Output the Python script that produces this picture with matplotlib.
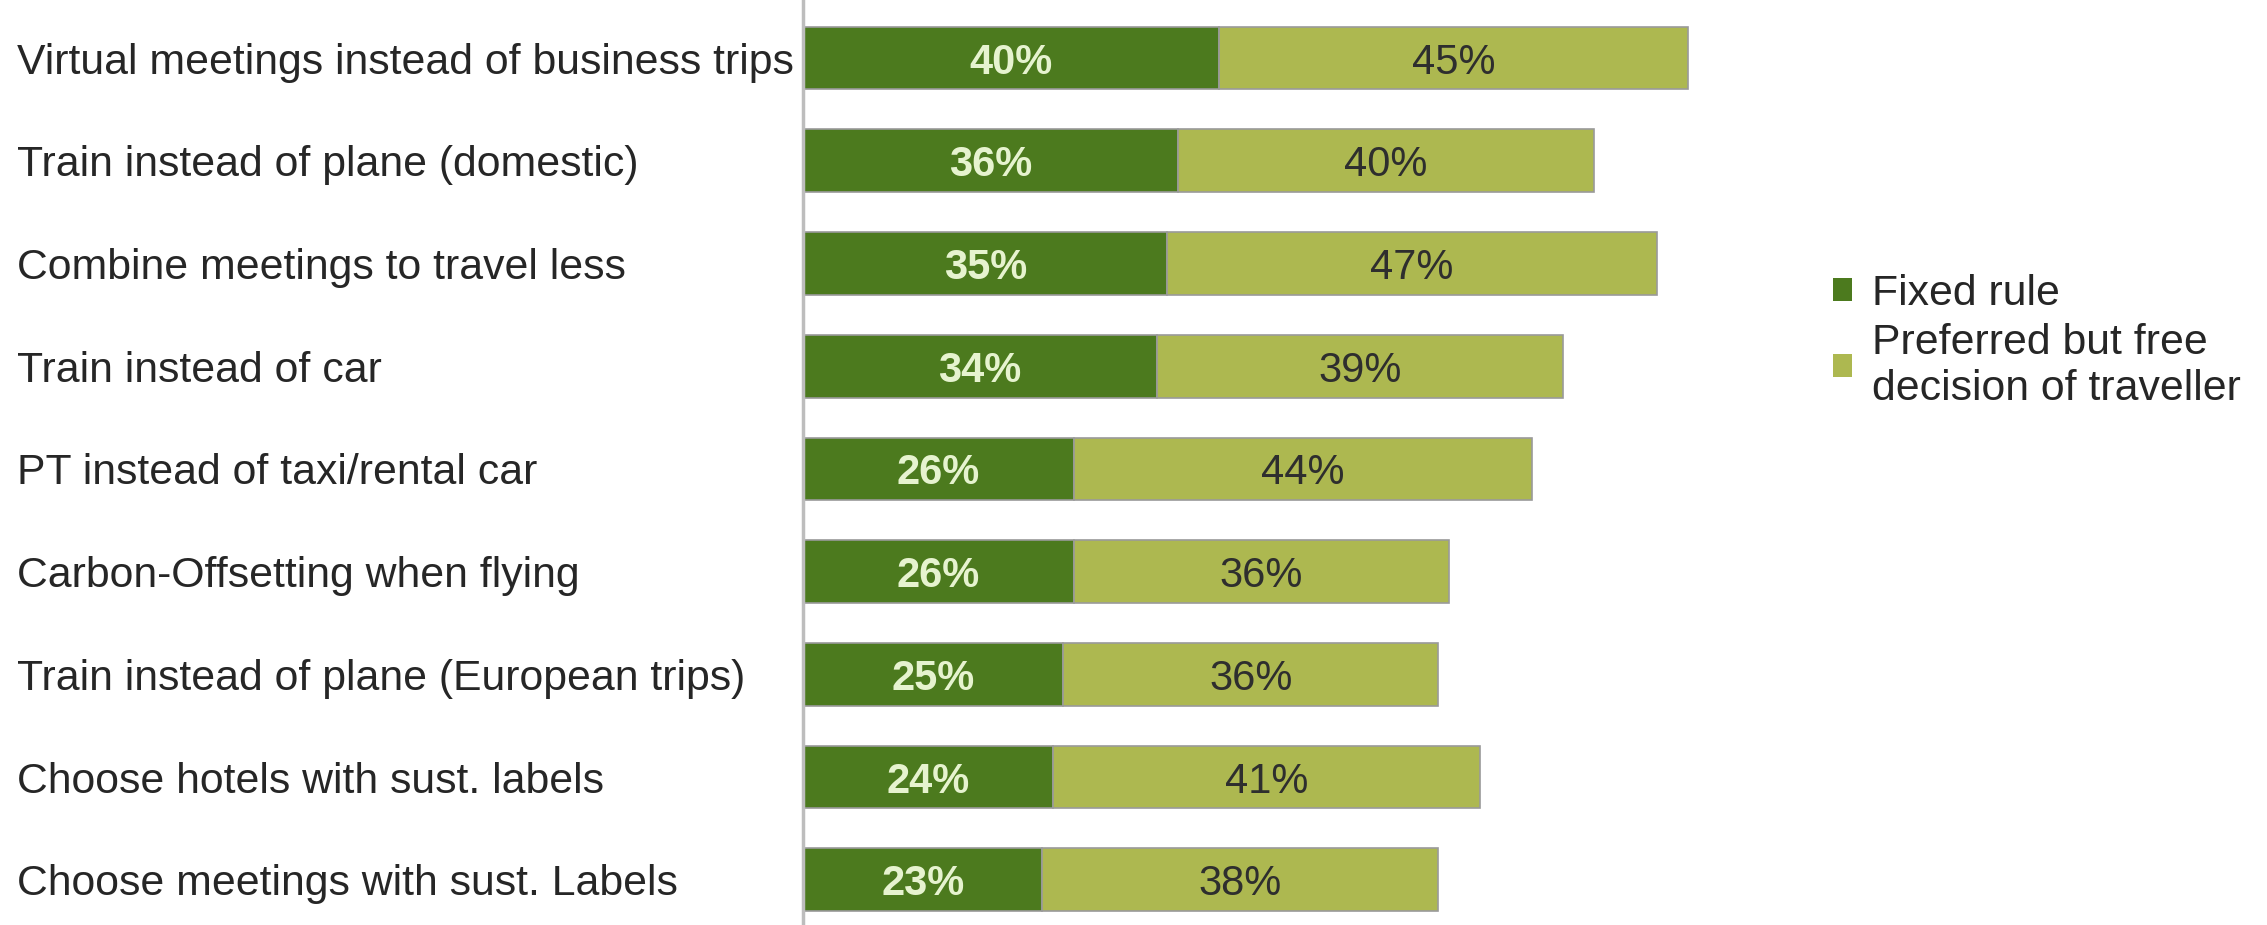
import matplotlib
matplotlib.use("Agg")
import matplotlib.pyplot as plt
from matplotlib.patches import Patch
from matplotlib.transforms import blended_transform_factory

categories = [
    "Virtual meetings instead of business trips",
    "Train instead of plane (domestic)",
    "Combine meetings to travel less",
    "Train instead of car",
    "PT instead of taxi/rental car",
    "Carbon-Offsetting when flying",
    "Train instead of plane (European trips)",
    "Choose hotels with sust. labels",
    "Choose meetings with sust. Labels",
]
fixed_rule = [40, 36, 35, 34, 26, 26, 25, 24, 23]
preferred = [45, 40, 47, 39, 44, 36, 36, 41, 38]
series_names = ["Fixed rule", "Preferred but free\ndecision of traveller"]

DARK = "#4C7A1E"
LIGHT = "#ADB850"
EDGE = "#9A9A9A"

plt.rcParams["font.family"] = ["Liberation Sans", "DejaVu Sans"]

W, H = 2267, 925
fig = plt.figure(figsize=(W / 100, H / 100), dpi=100)
left_px = 803
ax = fig.add_axes([left_px / W, 0, 885 / W, 1])

y = list(range(len(categories)))
bh = 0.61
ax.barh(y, fixed_rule, height=bh, color=DARK, edgecolor=EDGE, linewidth=1.2,
        label=series_names[0], clip_on=False)
ax.barh(y, preferred, left=fixed_rule, height=bh, color=LIGHT, edgecolor=EDGE,
        linewidth=1.2, label=series_names[1], clip_on=False)

for i, (a, b) in enumerate(zip(fixed_rule, preferred)):
    ax.text(a / 2, i, f"{a}%", ha="center", va="center_baseline", fontsize=30,
            color="#E6F3CF", fontweight="bold")
    ax.text(a + b / 2, i, f"{b}%", ha="center", va="center_baseline", fontsize=30,
            color="#2E2E2E")

ax.set_xlim(0, 85)
ax.set_ylim(8.44, -0.565)

for s in ["top", "right", "bottom"]:
    ax.spines[s].set_visible(False)
ax.spines["left"].set_color("#BDBDBD")
ax.spines["left"].set_linewidth(2.5)
ax.set_xticks([])
ax.set_yticks(y)
ax.set_yticklabels([])
ax.tick_params(axis="y", length=0)

# category labels: figure-x / data-y coordinates
label_tr = blended_transform_factory(fig.transFigure, ax.transData)
for i, c in enumerate(categories):
    ax.text(17 / W, i, c, transform=label_tr, fontsize=30.8,
            color="#262626", ha="left", va="center_baseline")

handles = [Patch(facecolor=DARK, edgecolor="none"), Patch(facecolor=LIGHT, edgecolor="none")]
leg = fig.legend(handles, series_names, loc="upper left",
                 bbox_to_anchor=(1833 / W, 1 - 274 / H), frameon=False,
                 fontsize=30.8, handlelength=0.45, handleheight=0.45,
                 handletextpad=0.45, labelspacing=0.2, borderaxespad=0,
                 borderpad=0)
for t in leg.get_texts():
    t.set_color("#262626")
    t.set_linespacing(1.2)

fig.savefig("out.png", dpi=100, facecolor="white")
